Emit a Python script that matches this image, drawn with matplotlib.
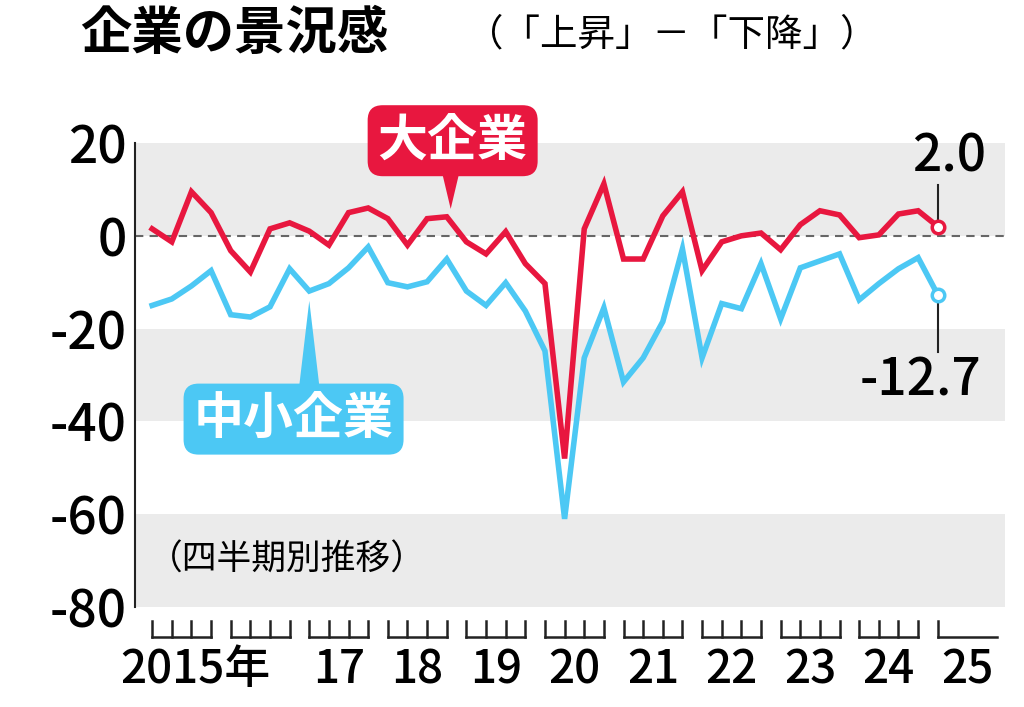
import matplotlib
matplotlib.use("Agg")
import matplotlib.pyplot as plt
from matplotlib.patches import Polygon
import numpy as np

plt.rcParams['font.family'] = ['Noto Sans CJK JP', 'DejaVu Sans']

large = [1.5,-1.3,9.5,5,-3.2,-7.8,1.5,2.8,1,-2,5,6,3.7,-2,3.7,4.1,-1.3,-3.9,0.9,-6,
         -10.3,-48,1.5,11.2,-5,-5,4.3,9.5,-7.5,-1.3,0,0.6,-3,2.4,5.4,4.5,-0.4,0.2,4.7,5.4,2.0]
small = [-15,-13.6,-10.8,-7.5,-17,-17.5,-15.3,-7.1,-11.9,-10.3,-6.9,-2.4,-10.1,-11,-9.9,-5,
         -11.9,-15,-10.1,-16.2,-24.8,-61,-26.3,-15.5,-31.5,-26.3,-18.5,-2.8,-26.3,-14.6,-15.7,-6,
         -17.9,-6.9,-5.4,-3.9,-13.8,-10.3,-7.1,-4.7,-12.7]
years = ["2015年","","17","18","19","20","21","22","23","24","25"]
yticks = [20,0,-20,-40,-60,-80]
RED = "#e8173f"; BLUE = "#4cc8f4"
W = "medium"

fig = plt.figure(figsize=(10.24,7.07), dpi=100)
ax = fig.add_axes([0.132,0.1414,0.849,0.6563])
ax.set_xlim(-0.865,43.4); ax.set_ylim(-80,20)
for lo,hi in [(0,20),(-40,-20),(-80,-60)]:
    ax.axhspan(lo,hi,color="#ebebeb",lw=0,zorder=0)
ax.axhline(0,color="#666",lw=1.5,ls=(0,(4,3)),zorder=1)
x = np.arange(len(large))
ax.plot(x,large,color=RED,lw=4,zorder=3,solid_joinstyle="miter")
ax.plot(x,small,color=BLUE,lw=4,zorder=3,solid_joinstyle="miter")
ax.plot(x[-1],large[-1],"o",ms=9,mfc="white",mec=RED,mew=2.5,zorder=4)
ax.plot(x[-1],small[-1],"o",ms=9,mfc="white",mec=BLUE,mew=2.5,zorder=4)
for s in ["top","right","bottom"]: ax.spines[s].set_visible(False)
ax.spines["left"].set_color("#222"); ax.spines["left"].set_linewidth(1.5)
ax.set_yticks(yticks); ax.set_yticklabels([str(v) for v in yticks],fontsize=37,fontweight=W)
ax.tick_params(axis="y",length=0,pad=6)
ax.set_xticks([])

yb = -86.5
for i,lab in enumerate(years):
    s = 4*i
    ax.plot([s, s+3], [yb,yb], color="#222", lw=1.8, clip_on=False)
    nq = 4 if i<10 else 1
    for q in range(nq):
        ax.plot([s+q,s+q],[yb,yb+3.5],color="#222",lw=1.8,clip_on=False)
    if lab:
        ax.text(s+1.5 if i>0 else s+2.2, -88.5, lab, ha="center", va="top", fontsize=33,
                fontweight=W, clip_on=False)

ax.plot([x[-1],x[-1]],[large[-1]+1.5,11],color="#222",lw=1.5,clip_on=False)
ax.text(x[-1]+0.6,11.5,"2.0",ha="center",va="bottom",fontsize=37,fontweight=W)
ax.plot([x[-1],x[-1]],[small[-1]-1.5,-25],color="#222",lw=1.5,clip_on=False)
ax.text(x[-1]-0.9,-25.5,"-12.7",ha="center",va="top",fontsize=37,fontweight=W)
ax.text(-0.2,-70,"（四半期別推移）",fontsize=25,va="center",ha="left")

def tag(txt,color,xc,yc,tip,up):
    ax.text(xc,yc,txt,fontsize=36,fontweight="bold",color="white",ha="center",va="center",
            zorder=6,bbox=dict(boxstyle="round,pad=0.2,rounding_size=0.3",fc=color,ec="none"),clip_on=False)
    dy = 4 if up else -4
    ax.add_patch(Polygon([[tip[0]-0.6,yc+dy],[tip[0]+0.6,yc+dy],tip],closed=True,
                         fc=color,ec="none",zorder=5,clip_on=False))
tag("大企業",RED,15.3,20.5,(15.2,5.8),False)
tag("中小企業",BLUE,7.2,-39.5,(8,-14),True)

fig.text(0.078,0.952,"企業の景況感",fontsize=37,fontweight="bold",va="center")
fig.text(0.455,0.950,"（「上昇」－「下降」）",fontsize=27,va="center")
fig.savefig("out.png",dpi=100)
